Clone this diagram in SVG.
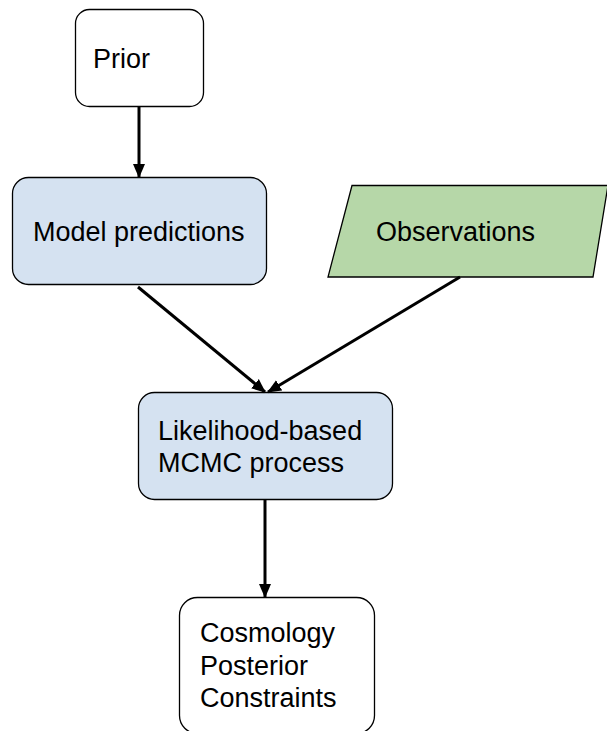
<svg xmlns="http://www.w3.org/2000/svg" width="607" height="731" viewBox="0 0 607 731">
<defs>
<marker id="ah" markerWidth="14" markerHeight="14" viewBox="0 0 14 14" refX="13" refY="7" orient="auto" markerUnits="userSpaceOnUse">
<path d="M0,1 L14,7 L0,13 Z" fill="#000"/>
</marker>
</defs>
<style>
.box{stroke:#000;stroke-width:1.3}
.white{fill:#fff}
.blue{fill:#d5e2f1}
.green{fill:#b6d7a8}
text{font-family:"Liberation Sans",Arial,sans-serif;font-size:27px;fill:#000}
.conn line{stroke:#000;stroke-width:3;marker-end:url(#ah)}
</style>
<rect width="607" height="731" fill="#fff"/>
<g id="prior">
<rect class="box white" x="75.5" y="9.5" width="128" height="97" rx="14"/>
<text x="93" y="68">Prior</text>
</g>
<g id="model">
<rect class="box blue" x="12.5" y="177.5" width="254" height="107" rx="16"/>
<text x="33" y="241">Model predictions</text>
</g>
<g id="observations">
<polygon class="box green" points="352,185.5 608,185.5 593,277 328,277"/>
<text x="376" y="241">Observations</text>
</g>
<g id="likelihood">
<rect class="box blue" x="138.5" y="392.5" width="254" height="107" rx="16"/>
<text x="158" y="440">Likelihood-based</text>
<text x="158" y="472">MCMC process</text>
</g>
<g id="cosmology">
<rect class="box white" x="179.5" y="597.5" width="195" height="136" rx="18"/>
<text x="200" y="642">Cosmology</text>
<text x="200" y="675">Posterior</text>
<text x="200" y="707">Constraints</text>
</g>
<g class="conn" id="connectors">
<line x1="139" y1="106" x2="139" y2="177"/>
<line x1="138" y1="287" x2="265" y2="392"/>
<line x1="460" y1="277" x2="268" y2="392"/>
<line x1="265" y1="500" x2="265" y2="597"/>
</g>
</svg>
